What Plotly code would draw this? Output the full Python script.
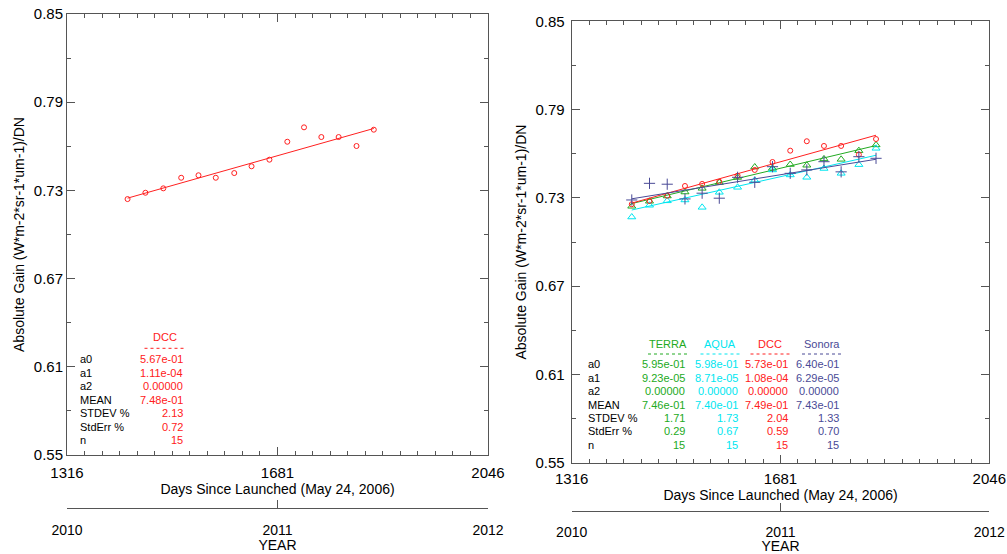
import plotly.graph_objects as go

W, H = 1007, 554

# ---------------- data ----------------
days = [1421, 1452, 1483, 1514, 1544, 1574, 1606, 1636, 1667, 1698, 1727, 1757, 1787, 1818, 1848]

dcc_left = [0.7241, 0.7284, 0.7314, 0.7386, 0.7403, 0.7386, 0.7418, 0.7464, 0.7509,
            0.7631, 0.7729, 0.7663, 0.7663, 0.7602, 0.7713]

terra = [0.7243, 0.7277, 0.7313, 0.7340, 0.7365, 0.7404, 0.7439, 0.7510, 0.7501,
         0.7527, 0.7522, 0.7565, 0.7562, 0.7621, 0.7660]
aqua = [0.7170, 0.7250, 0.7280, 0.7286, 0.7236, 0.7338, 0.7372, 0.7420, 0.7490,
        0.7456, 0.7440, 0.7500, 0.7467, 0.7526, 0.7637]
dcc_right = [0.7257, 0.7279, 0.7315, 0.7381, 0.7395, 0.7410, 0.7451, 0.7490, 0.7544,
             0.7621, 0.7685, 0.7653, 0.7653, 0.7594, 0.7700]
sonora = [0.7286, 0.7399, 0.7393, 0.7293, 0.7332, 0.7298, 0.7440, 0.7406, 0.7512,
          0.7467, 0.7490, 0.7546, 0.7477, 0.7580, 0.7569]

stat_labels = ["a0", "a1", "a2", "MEAN", "STDEV %", "StdErr %", "n"]
# stats per series: a0, a1, a2, mean, stdev, stderr, n
stats_left = {"DCC": [5.67e-01, 1.11e-04, 0.0, 7.48e-01, 2.13, 0.72, 15]}
stats_right = {
    "TERRA": [5.95e-01, 9.23e-05, 0.0, 7.46e-01, 1.71, 0.29, 15],
    "AQUA": [5.98e-01, 8.71e-05, 0.0, 7.40e-01, 1.73, 0.67, 15],
    "DCC": [5.73e-01, 1.08e-04, 0.0, 7.49e-01, 2.04, 0.59, 15],
    "Sonora": [6.40e-01, 6.29e-05, 0.0, 7.43e-01, 1.33, 0.70, 15],
}

day_ticks = [1316, 1681, 2046]
year_ticks = [2010, 2011, 2012]
y_ticks = [0.55, 0.61, 0.67, 0.73, 0.79, 0.85]

colors = {"TERRA": "#22aa22", "AQUA": "#00e6f0", "DCC": "#ff2020", "Sonora": "#4a4a96"}
symbols = {"TERRA": "triangle-up-open", "AQUA": "triangle-up-open",
           "DCC": "circle-open", "Sonora": "cross-thin-open"}
msize = {"TERRA": 7, "AQUA": 7, "DCC": 5, "Sonora": 8}

FONT = "Liberation Sans, Arial, Helvetica, sans-serif"
AXC = "#555555"


def fmt(vals):
    a0, a1, a2, mean, sd, se, n = vals
    return [f"{a0:.2e}", f"{a1:.2e}", f"{a2:.5f}", f"{mean:.2e}", f"{sd:.2f}", f"{se:.2f}", f"{int(n)}"]


fig = go.Figure()


# ---------------- traces ----------------
def add_series(name, y, xa, ya, coefs):
    c = colors[name]
    fig.add_trace(go.Scatter(x=days, y=y, mode="markers", xaxis=xa, yaxis=ya,
                             marker=dict(symbol=symbols[name], size=msize[name],
                                         color=c, line=dict(width=1, color=c)),
                             showlegend=False, hoverinfo="skip"))
    xs = [days[0], days[-1]]
    ys = [coefs[0] + coefs[1] * d + coefs[2] * d * d for d in xs]
    fig.add_trace(go.Scatter(x=xs, y=ys, mode="lines", xaxis=xa, yaxis=ya,
                             line=dict(color=c, width=1), showlegend=False, hoverinfo="skip"))


add_series("DCC", dcc_left, "x", "y", stats_left["DCC"])
for nm, ys in [("TERRA", terra), ("AQUA", aqua), ("DCC", dcc_right), ("Sonora", sonora)]:
    add_series(nm, ys, "x2", "y2", stats_right[nm])

# invisible helper traces so that the YEAR axes are drawn
for xa, ya in [("x3", "y3"), ("x4", "y4")]:
    fig.add_trace(go.Scatter(x=[year_ticks[0], year_ticks[-1]], y=[0.5, 0.5], xaxis=xa, yaxis=ya,
                             mode="markers", marker=dict(size=1, opacity=0),
                             showlegend=False, hoverinfo="skip"))


# ---------------- axes ----------------
def px(x):
    return x / W


def py(y):
    return 1 - y / H


tickfont = dict(family=FONT, size=15, color="black")
yearfont = dict(family=FONT, size=14, color="black")
titlefont = dict(family=FONT, size=14, color="black")

minor_day = dict(tickmode="linear", tick0=day_ticks[0], dtick=(day_ticks[1] - day_ticks[0]) / 12,
                 ticks="inside", ticklen=4, tickcolor=AXC, tickwidth=1, showgrid=False)
minor_y = dict(tickmode="linear", tick0=y_ticks[0], dtick=(y_ticks[1] - y_ticks[0]) / 2,
               ticks="inside", ticklen=4, tickcolor=AXC, tickwidth=1, showgrid=False)


def day_axis(dom, anchor, stand):
    return dict(domain=dom, anchor=anchor, range=[day_ticks[0], day_ticks[-1]], automargin=False,
                tickmode="array", tickvals=day_ticks, ticktext=[str(t) for t in day_ticks],
                ticks="inside", ticklen=8, tickwidth=1, tickcolor=AXC, showline=True, linecolor=AXC,
                linewidth=1, mirror="ticks", showgrid=False, zeroline=False,
                tickfont=tickfont, minor=minor_day, ticklabelstandoff=stand,
                title=dict(text="Days Since Launched (May 24, 2006)", font=titlefont, standoff=2))


def y_axis(dom, anchor, stand):
    return dict(domain=dom, anchor=anchor, range=[y_ticks[0], y_ticks[-1]], automargin=False,
                tickmode="array", tickvals=y_ticks, ticktext=[f"{t:.2f}" for t in y_ticks],
                ticks="inside", ticklen=8, tickwidth=1, tickcolor=AXC, showline=True,
                linecolor=AXC, linewidth=1, mirror="ticks", showgrid=False, zeroline=False,
                tickfont=tickfont, minor=minor_y, ticklabelstandoff=stand,
                title=dict(text="Absolute Gain (W*m-2*sr-1*um-1)/DN", font=titlefont, standoff=5))


def year_axis(dom, anchor, stand):
    return dict(domain=dom, anchor=anchor, side="bottom", automargin=False,
                range=[year_ticks[0], year_ticks[-1]], tickmode="array", tickvals=year_ticks,
                ticktext=[str(t) for t in year_ticks], ticks="inside", ticklen=8, tickwidth=1,
                tickcolor=AXC, showline=True, linecolor=AXC, linewidth=1, showgrid=False,
                zeroline=False, tickfont=yearfont, ticklabelstandoff=stand,
                title=dict(text="YEAR", font=titlefont, standoff=0))


def hidden_y(pos, anchor):
    return dict(domain=[pos, pos + 0.02], anchor=anchor, range=[0, 1], visible=False,
                showgrid=False, zeroline=False, automargin=False)


dom_l = [px(67), px(488)]
dom_r = [px(571.7), px(989.3)]
fig.update_layout(
    template="none",
    xaxis=day_axis(dom_l, "y", 4),
    yaxis=y_axis([py(455), py(14)], "x", 0),
    xaxis2=day_axis(dom_r, "y2", 2),
    yaxis2=y_axis([py(462.8), py(21.3)], "x2", 3),
    xaxis3=year_axis(dom_l, "y3", 9),
    yaxis3=hidden_y(py(507.7), "x3"),
    xaxis4=year_axis(dom_r, "y4", 8),
    yaxis4=hidden_y(py(510.7), "x4"),
)

# ---------------- statistics tables ----------------
annotations = []
shapes = []
TS = 11


def add_table(stats, label_x, right_edges, header_y, dot_y, row_y0, row_dy, col_w):
    for i, lab in enumerate(stat_labels):
        annotations.append(dict(x=px(label_x), y=py(row_y0 + i * row_dy), xref="paper", yref="paper",
                                text=lab, showarrow=False, xanchor="left", yanchor="middle",
                                font=dict(family=FONT, size=TS, color="black")))
    for (name, vals), rx in zip(stats.items(), right_edges):
        c = colors[name]
        annotations.append(dict(x=px(rx - col_w / 2), y=py(header_y), xref="paper", yref="paper",
                                text=name, showarrow=False, xanchor="center", yanchor="middle",
                                font=dict(family=FONT, size=TS, color=c)))
        shapes.append(dict(type="line", xref="paper", yref="paper", x0=px(rx - col_w), x1=px(rx),
                           y0=py(dot_y), y1=py(dot_y), line=dict(color=c, width=1, dash="dot")))
        for i, s in enumerate(fmt(vals)):
            annotations.append(dict(x=px(rx), y=py(row_y0 + i * row_dy), xref="paper", yref="paper",
                                    text=s, showarrow=False, xanchor="right", yanchor="middle",
                                    font=dict(family=FONT, size=TS, color=c)))


add_table(stats_left, 78, [184.5], 337.3, 348.3, 359, 13.5, 40)
add_table(stats_right, 586, [687, 739.5, 789.5, 841], 344.3, 354, 364.3, 13.4, 39)

fig.update_layout(
    width=W, height=H, margin=dict(l=0, r=0, t=0, b=0, pad=0),
    paper_bgcolor="white", plot_bgcolor="white",
    annotations=annotations, shapes=shapes,
    font=dict(family=FONT, color="black"),
)

fig.write_html("out.html")
